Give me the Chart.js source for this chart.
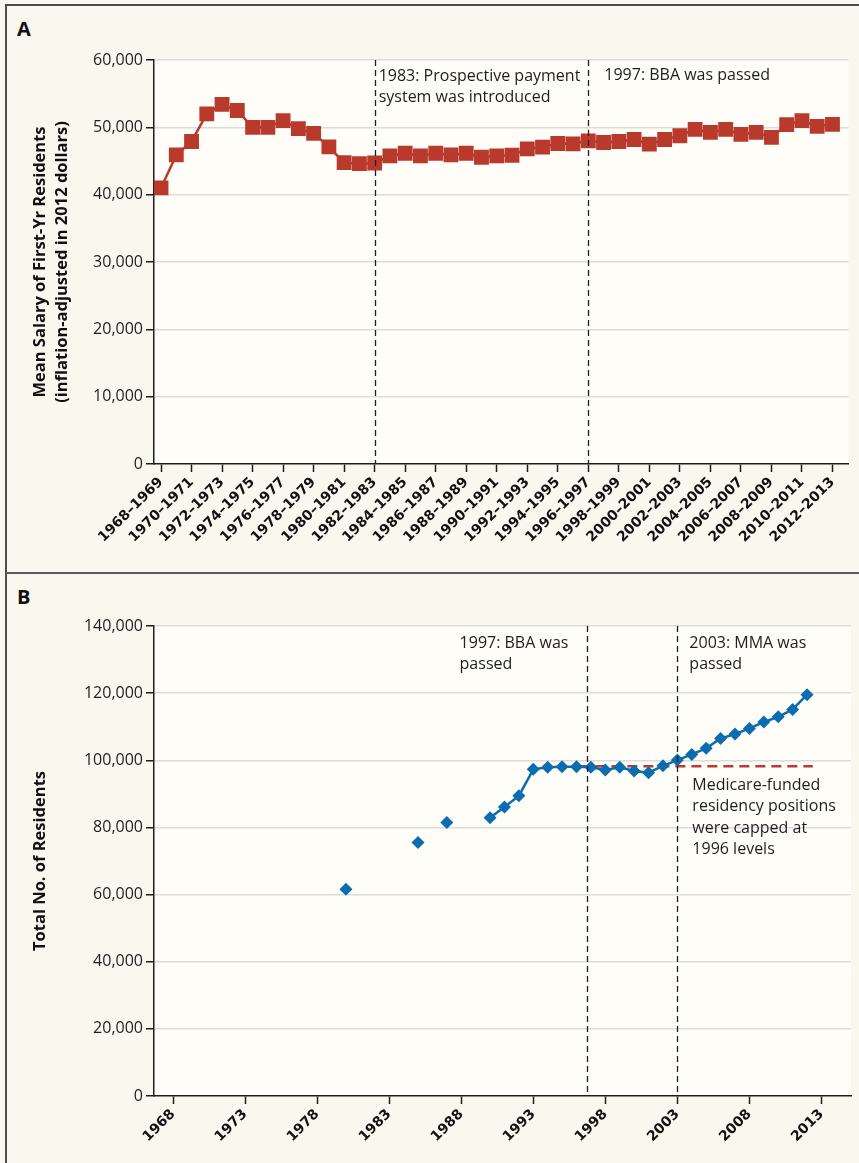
<!DOCTYPE html>
<html>
<head>
<meta charset="utf-8">
<script src="https://cdn.jsdelivr.net/npm/chart.js@4.4.0/dist/chart.umd.min.js"></script>
<style>
  body { margin: 0; background: #f9f7ee; width: 859px; height: 1163px; overflow: hidden; position: relative; }
  .frame { position: absolute; left: 5px; top: 4px; width: 900px; height: 1200px; border: 2px solid #4d4d4d; }
  .divider { position: absolute; left: 5px; top: 572px; width: 900px; height: 2px; background: #5a5a5a; }
  .panel-label { position: absolute; left: 17px; font: bold 20px "Open Sans", sans-serif; color: #111; }
  canvas { position: absolute; left: 0; }
</style>
</head>
<body>
<div class="frame"></div>
<div class="divider"></div>
<div class="panel-label" style="top:15px">A</div>
<div class="panel-label" style="top:583px">B</div>
<canvas id="chartA" width="859" height="574" style="top:0"></canvas>
<canvas id="chartB" width="859" height="587" style="top:576px"></canvas>
<script>
// Panel A: mean salary of first-year residents, by academic year
const periods = [
  '1968–1969', '1969–1970', '1970–1971', '1971–1972', '1972–1973', '1973–1974',
  '1974–1975', '1975–1976', '1976–1977', '1977–1978', '1978–1979', '1979–1980',
  '1980–1981', '1981–1982', '1982–1983', '1983–1984', '1984–1985', '1985–1986',
  '1986–1987', '1987–1988', '1988–1989', '1989–1990', '1990–1991', '1991–1992',
  '1992–1993', '1993–1994', '1994–1995', '1995–1996', '1996–1997', '1997–1998',
  '1998–1999', '1999–2000', '2000–2001', '2001–2002', '2002–2003', '2003–2004',
  '2004–2005', '2005–2006', '2006–2007', '2007–2008', '2008–2009', '2009–2010',
  '2010–2011', '2011–2012', '2012–2013'
];
const salary = [
  41000, 45900, 47900, 52000, 53400, 52500, 50000, 50000, 51000, 49800,
  49100, 47100, 44750, 44600, 44700, 45750, 46150, 45750, 46150, 45900,
  46150, 45550, 45750, 45850, 46800, 47050, 47600, 47550, 48000, 47750,
  47900, 48200, 47500, 48200, 48750, 49700, 49250, 49700, 48950, 49250,
  48500, 50400, 51000, 50150, 50450
];
const salaryTickPeriods = ['1968–1969', '1970–1971', '1972–1973', '1974–1975', '1976–1977',
  '1978–1979', '1980–1981', '1982–1983', '1984–1985', '1986–1987', '1988–1989', '1990–1991',
  '1992–1993', '1994–1995', '1996–1997', '1998–1999', '2000–2001', '2002–2003', '2004–2005',
  '2006–2007', '2008–2009', '2010–2011', '2012–2013'];

// Panel B: total number of residents, by year
const years = [1980, 1981, 1982, 1983, 1984, 1985, 1986, 1987, 1988, 1989, 1990, 1991,
  1992, 1993, 1994, 1995, 1996, 1997, 1998, 1999, 2000, 2001, 2002, 2003, 2004, 2005,
  2006, 2007, 2008, 2009, 2010, 2011, 2012];
const residents = [61600, null, null, null, null, 75500, null, 81500, null, null, 82900, 86100,
  89400, 97300, 97900, 98050, 98050, 97900, 97100, 97900, 96800, 96300, 98350, 100050,
  101750, 103550, 106500, 107800, 109500, 111400, 112950, 115150, 119550];
const yearTicks = [1968, 1973, 1978, 1983, 1988, 1993, 1998, 2003, 2008, 2013];
const capYears = [1996.2, 2012.4];
const capLevel = 98200;

const RED = '#b93a2c';
const BLUE = '#0b6db0';
const INK = '#1e1e1e';

const plotBg = {
  id: 'plotBg',
  beforeDraw(chart) {
    const a = chart.chartArea, ctx = chart.ctx;
    ctx.save();
    ctx.fillStyle = '#fefdf8';
    ctx.fillRect(a.left, a.top, a.right - a.left, a.bottom - a.top);
    ctx.restore();
  }
};

// vertical event lines and notes; x in data units, text offsets in pixels
function eventNotes(events) {
  return {
    id: 'eventNotes',
    afterDatasetsDraw(chart) {
      const ctx = chart.ctx, a = chart.chartArea, xs = chart.scales.x;
      ctx.save();
      events.forEach(ev => {
        if (ev.line) {
          const px = Math.round(xs.getPixelForValue(ev.at)) + 0.5;
          ctx.strokeStyle = INK;
          ctx.lineWidth = 1.3;
          ctx.setLineDash([6, 4]);
          ctx.beginPath();
          ctx.moveTo(px, a.top);
          ctx.lineTo(px, a.bottom);
          ctx.stroke();
          ctx.setLineDash([]);
        }
        ctx.fillStyle = INK;
        ctx.font = '16px "Open Sans"';
        ctx.textBaseline = 'middle';
        ctx.textAlign = 'left';
        const px = xs.getPixelForValue(ev.at);
        ev.text.forEach((t, i) => ctx.fillText(t, px + ev.dx, a.top + ev.dy + i * 21.5));
      });
      ctx.restore();
    }
  };
}

const tickFont = { family: 'DejaVu Sans', weight: 'bold', size: 14 };
const numFont = { family: 'Open Sans', size: 16 };
const titleFont = { family: 'Open Sans', weight: 'bold', size: 16.5, lineHeight: 1.35 };

function yGrid(ctx) {
  return ctx.tick && ctx.tick.value === 0 ? 'rgba(0,0,0,0)' : '#dcdcdc';
}

// ---- Panel A
new Chart(document.getElementById('chartA'), {
  type: 'line',
  data: {
    datasets: [{
      data: salary.map((v, i) => ({ x: i, y: v })),
      borderColor: RED,
      backgroundColor: RED,
      borderWidth: 2.5,
      pointStyle: 'rect',
      pointRadius: 10.5,
      pointHoverRadius: 10.5,
      pointBorderWidth: 0,
      tension: 0
    }]
  },
  options: {
    responsive: false,
    animation: false,
    devicePixelRatio: 1,
    layout: { padding: { top: 60, right: 8, left: 0, bottom: 0 } },
    plugins: { legend: { display: false }, tooltip: { enabled: false } },
    scales: {
      x: {
        type: 'linear',
        min: -0.46,
        max: 45.05,
        afterBuildTicks: s => { s.ticks = salaryTickPeriods.map(p => ({ value: periods.indexOf(p) })); },
        afterFit: s => { s.height = 110; },
        ticks: {
          autoSkip: false, minRotation: 45, maxRotation: 45,
          callback: v => periods[v],
          font: tickFont, color: '#111', padding: 2
        },
        grid: { drawOnChartArea: false, tickLength: 8, tickColor: INK, tickWidth: 1.5 },
        border: { color: INK, width: 1.5 }
      },
      y: {
        min: 0,
        max: 60000,
        afterFit: s => { s.width = 154; },
        ticks: {
          stepSize: 10000,
          callback: v => v.toLocaleString('en-US'),
          font: numFont, color: INK, padding: 3
        },
        grid: { color: yGrid, lineWidth: 1.5, tickLength: 8, tickColor: INK, tickWidth: 1.5 },
        border: { color: INK, width: 1.5 },
        title: {
          display: true,
          text: ['Mean Salary of First-Yr Residents', '(inflation-adjusted in 2012 dollars)'],
          font: titleFont, color: '#111',
          padding: { top: 29, bottom: 0 }
        }
      }
    }
  },
  plugins: [plotBg, eventNotes([
    { at: periods.indexOf('1982–1983'), line: true, dx: 4, dy: 16, text: ['1983: Prospective payment', 'system was introduced'] },
    { at: periods.indexOf('1996–1997'), line: true, dx: 16, dy: 15, text: ['1997: BBA was passed'] }
  ])]
});

// ---- Panel B
new Chart(document.getElementById('chartB'), {
  type: 'line',
  data: {
    datasets: [{
      data: years.map((y, i) => ({ x: y, y: residents[i] })),
      borderColor: BLUE,
      backgroundColor: BLUE,
      borderWidth: 2.5,
      pointStyle: 'rectRot',
      pointRadius: 6.5,
      pointHoverRadius: 6.5,
      pointBorderWidth: 0,
      spanGaps: false,
      tension: 0
    }, {
      data: capYears.map(y => ({ x: y, y: capLevel })),
      borderColor: '#c0392b',
      borderWidth: 2.5,
      borderDash: [10, 6],
      pointRadius: 0,
      tension: 0
    }]
  },
  options: {
    responsive: false,
    animation: false,
    devicePixelRatio: 1,
    layout: { padding: { top: 50, right: 8, left: 0, bottom: 0 } },
    plugins: { legend: { display: false }, tooltip: { enabled: false } },
    scales: {
      x: {
        type: 'linear',
        min: 1966.68,
        max: 2015.05,
        afterBuildTicks: s => { s.ticks = yearTicks.map(v => ({ value: v })); },
        afterFit: s => { s.height = 67; },
        ticks: {
          autoSkip: false, minRotation: 45, maxRotation: 45,
          callback: v => String(v),
          font: tickFont, color: '#111', padding: 2
        },
        grid: { drawOnChartArea: false, tickLength: 8, tickColor: INK, tickWidth: 1.5 },
        border: { color: INK, width: 1.5 }
      },
      y: {
        min: 0,
        max: 140000,
        afterFit: s => { s.width = 154; },
        ticks: {
          stepSize: 20000,
          callback: v => v.toLocaleString('en-US'),
          font: numFont, color: INK, padding: 3
        },
        grid: { color: yGrid, lineWidth: 1.5, tickLength: 8, tickColor: INK, tickWidth: 1.5 },
        border: { color: INK, width: 1.5 },
        title: {
          display: true,
          text: 'Total No. of Residents',
          font: titleFont, color: '#111',
          padding: { top: 29, bottom: 0 }
        }
      }
    }
  },
  plugins: [plotBg, eventNotes([
    { at: 1996.7, line: true, dx: -127, dy: 17, text: ['1997: BBA was', 'passed'] },
    { at: 2003, line: true, dx: 12, dy: 17, text: ['2003: MMA was', 'passed'] },
    { at: 2003, line: false, dx: 15, dy: 159, text: ['Medicare-funded', 'residency positions', 'were capped at', '1996 levels'] }
  ])]
});
</script>
</body>
</html>
